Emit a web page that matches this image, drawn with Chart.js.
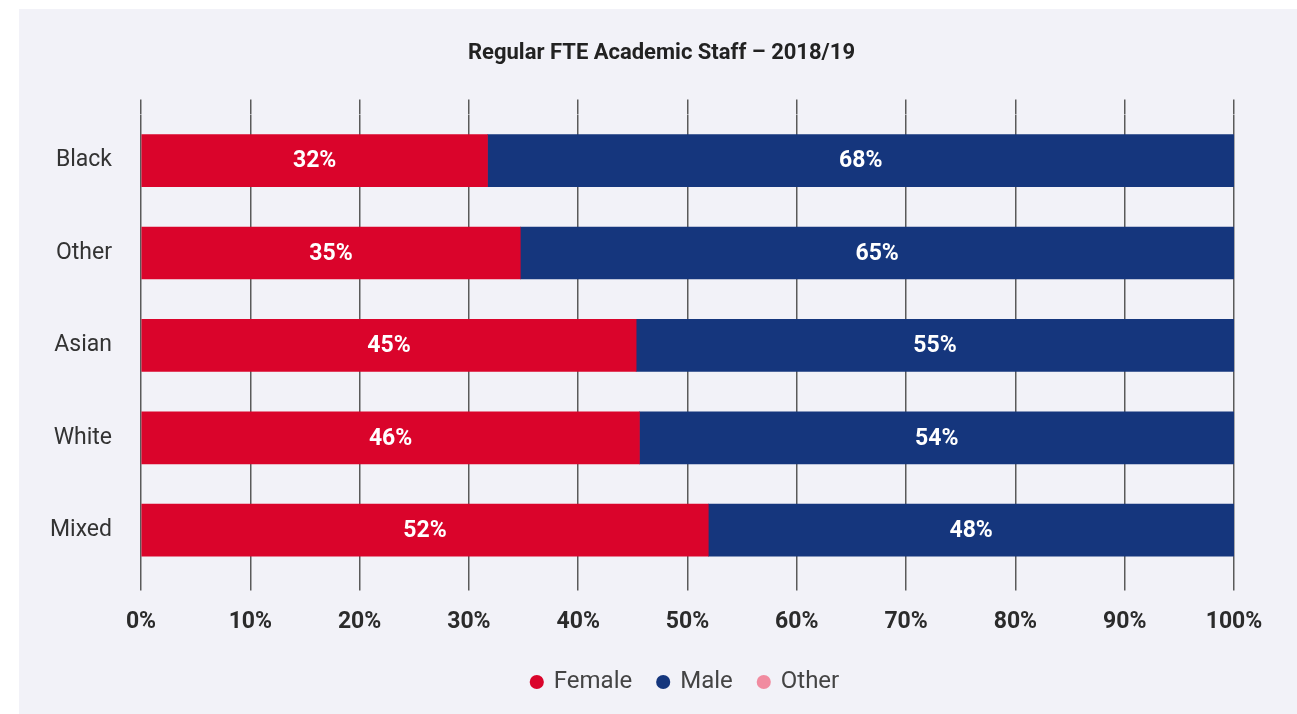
<!DOCTYPE html>
<html lang="en">
  <head>
    <meta charset="UTF-8" />
    <title>Regular FTE Academic Staff – 2018/19</title>
    <style>
      body {
        margin: 0;
        background: #ffffff;
      }
      .panel {
        position: absolute;
        left: 19px;
        top: 9px;
        width: 1278px;
        height: 705px;
        background: #f2f2f8;
      }
    </style>
  </head>
  <body>
    <div class="panel">
      <canvas id="chart-1" width="1278" height="705"></canvas>
    </div>

    <script src="https://cdn.jsdelivr.net/npm/chart.js"></script>

    <script>
      // data
      const groups = ["Black", "Other", "Asian", "White", "Mixed"];
      const female = [31.7, 34.7, 45.3, 45.6, 51.9];
      const male = [68.3, 65.3, 54.7, 54.4, 48.1];
      const other = [0, 0, 0, 0, 0];
      const xTicks = [0, 10, 20, 30, 40, 50, 60, 70, 80, 90, 100];

      const FONT = "Roboto, 'Noto Sans', sans-serif";

      // white % labels inside the bars
      const barLabels = {
        id: "barLabels",
        afterDatasetsDraw(chart) {
          const ctx = chart.ctx;
          ctx.save();
          ctx.fillStyle = "#ffffff";
          ctx.font = "bold 23px " + FONT;
          ctx.textAlign = "center";
          ctx.textBaseline = "middle";
          [0, 1].forEach((i) => {
            const meta = chart.getDatasetMeta(i);
            meta.data.forEach((bar, j) => {
              const v = chart.data.datasets[i].data[j];
              if (!v) return;
              ctx.fillText(Math.round(v) + "%", (bar.x + bar.base) / 2, bar.y + 1);
            });
          });
          ctx.restore();
        },
      };

      // title and legend sit a bit right of the canvas centre in the original
      const nudge = {
        id: "nudge",
        afterLayout(chart) {
          chart.titleBlock.left += 34;
          chart.titleBlock.right += 34;
          chart.legend.left += 58;
          chart.legend.right += 58;
          chart.legend.top -= 10;
          chart.legend.bottom -= 10;
        },
      };

      const chart = new Chart(document.getElementById("chart-1"), {
        type: "bar",
        data: {
          labels: groups,
          datasets: [
            { label: "Female", data: female, backgroundColor: "#da042b" },
            { label: "Male", data: male, backgroundColor: "#15367d" },
            { label: "Other", data: other, backgroundColor: "#f18ba0" },
          ],
        },
        options: {
          indexAxis: "y",
          responsive: false,
          animation: false,
          datasets: {
            bar: { barThickness: 52 },
          },
          layout: {
            padding: { left: 2, right: 63, top: 0, bottom: 0 },
          },
          scales: {
            x: {
              stacked: true,
              min: 0,
              max: 100,
              afterBuildTicks: (axis) => {
                axis.ticks = xTicks.map((v) => ({ value: v }));
              },
              border: { display: false },
              grid: {
                color: "#5a5a5a",
                lineWidth: 1.5,
                tickLength: 14,
              },
              ticks: {
                padding: 18,
                color: "#2b2b2b",
                font: { family: FONT, size: 23, weight: "bold" },
                callback: (v) => v + "%",
              },
            },
            x2: {
              position: "top",
              min: 0,
              max: 100,
              afterBuildTicks: (axis) => {
                axis.ticks = xTicks.map((v) => ({ value: v }));
              },
              border: { display: false },
              grid: {
                color: "#5a5a5a",
                lineWidth: 1.5,
                tickLength: 15,
                drawOnChartArea: false,
              },
              ticks: { display: false },
            },
            y: {
              stacked: true,
              border: { display: false },
              grid: { display: false, drawTicks: false },
              ticks: {
                padding: 29,
                color: "#333333",
                font: { family: FONT, size: 23 },
              },
            },
          },
          plugins: {
            title: {
              display: true,
              text: "Regular FTE Academic Staff – 2018/19",
              color: "#222222",
              font: { family: FONT, size: 22, weight: "bold" },
              padding: { top: 31, bottom: 33 },
            },
            legend: {
              position: "bottom",
              labels: {
                usePointStyle: true,
                pointStyle: "circle",
                boxWidth: 10,
                boxHeight: 10,
                padding: 26,
                color: "#444444",
                font: { family: FONT, size: 24 },
              },
            },
            tooltip: { enabled: false },
          },
        },
        plugins: [barLabels, nudge],
      });
    </script>
  </body>
</html>
